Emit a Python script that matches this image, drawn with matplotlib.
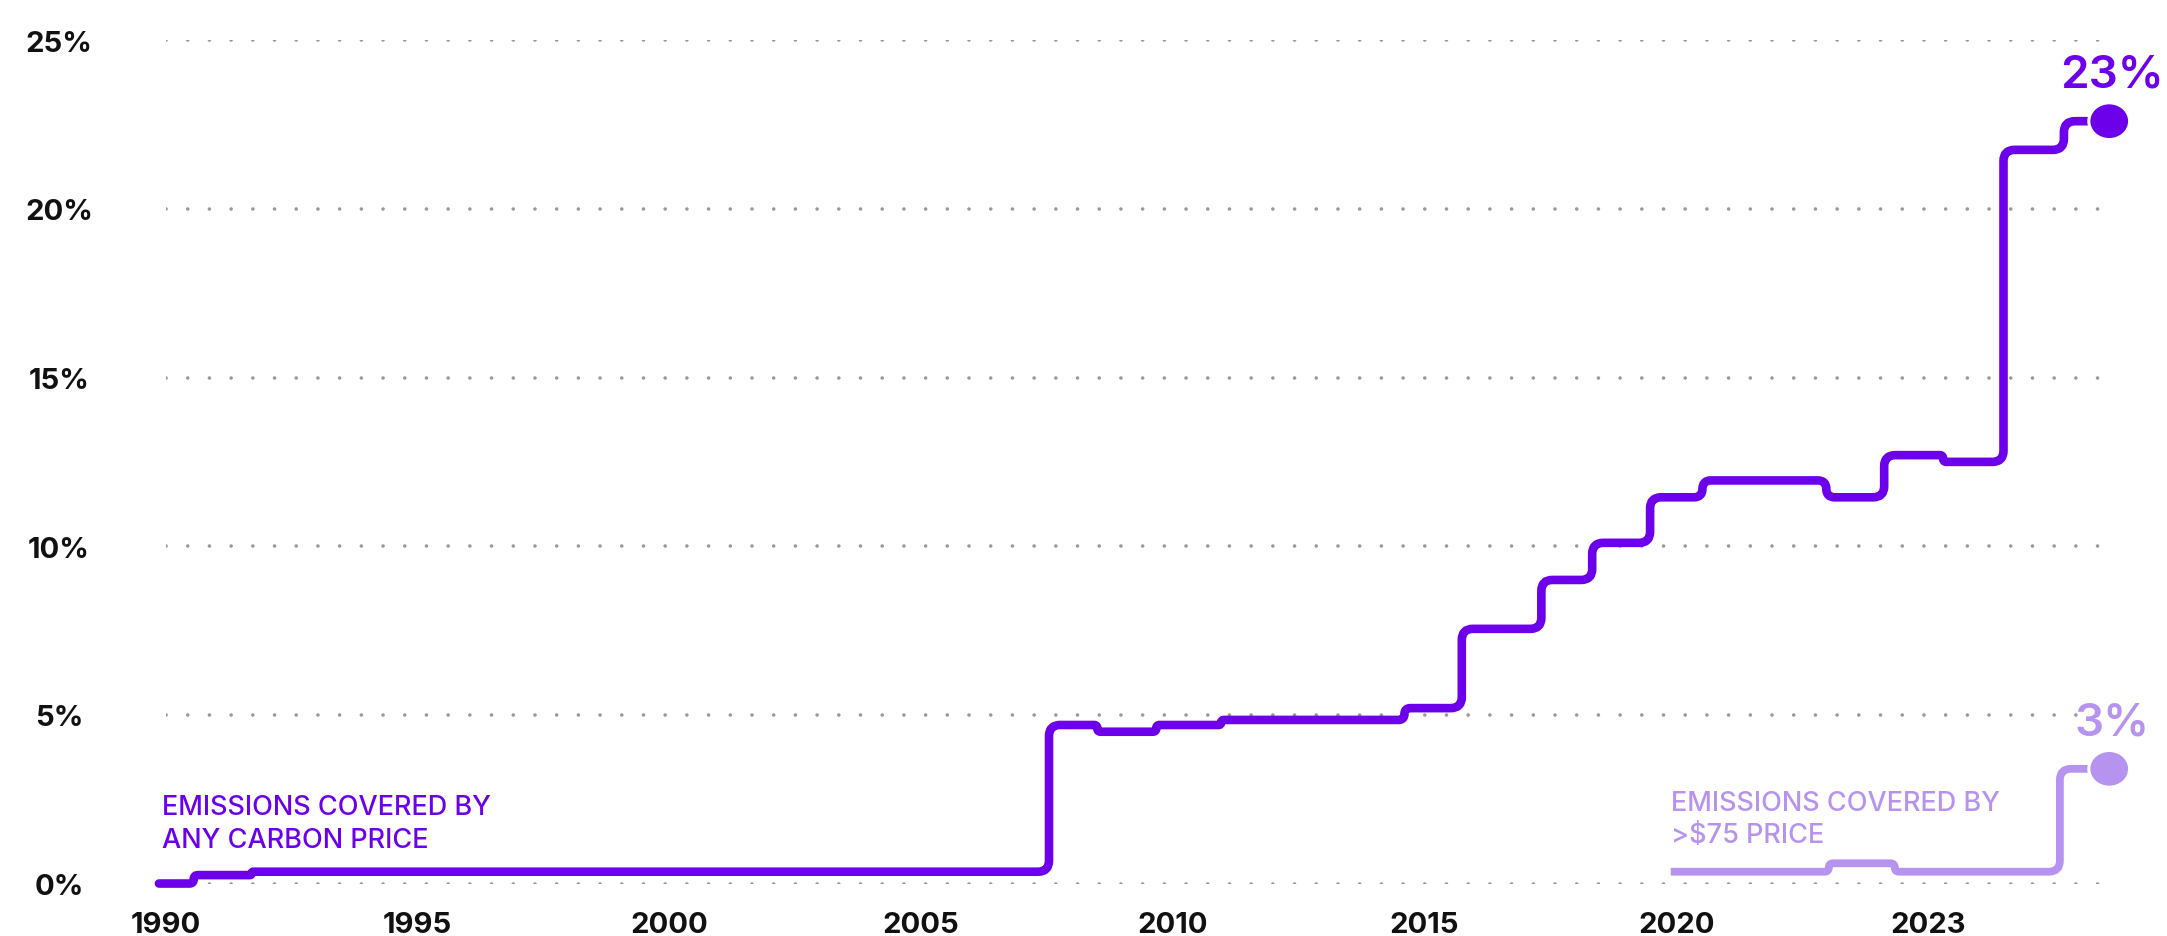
import numpy as np
import matplotlib
matplotlib.use("Agg")
import matplotlib.pyplot as plt
from matplotlib.path import Path
from matplotlib.patches import PathPatch, Ellipse
from matplotlib.transforms import IdentityTransform

# x axis ticks (the last tick carries the label "2023")
tick_pos = [1990, 1995, 2000, 2005, 2010, 2015, 2020, 2025]
tick_labels = ["1990", "1995", "2000", "2005", "2010", "2015", "2020", "2023"]
pct_ticks = [0, 5, 10, 15, 20, 25]

# share of emissions covered by any carbon price: x where each level starts, level in %
any_x = [1989.86, 1990.55, 1991.7, 2007.54, 2008.5, 2009.67, 2010.96, 2014.6,
         2015.74, 2017.32, 2018.33, 2019.48, 2020.52, 2022.98, 2024.13, 2025.3,
         2026.5, 2027.7]
any_pct = [0.0, 0.25, 0.35, 4.7, 4.5, 4.7, 4.85, 5.2,
           7.55, 9.0, 10.1, 11.45, 11.95, 11.45, 12.7, 12.5,
           21.75, 22.6]
any_end = 2028.6

# share covered by a price above $75
high_x = [2019.89, 2023.03, 2024.34, 2027.62]
high_pct = [0.35, 0.6, 0.35, 3.4]
high_end = 2028.6

DARK = "#6c00ea"
LIGHT = "#b793f0"
GRID = "#9a9a9a"
FONT = "Inter"

fig = plt.figure(figsize=(21.67, 9.37), dpi=100)
ax = fig.add_axes([0.0766, 0.056, 0.8972, 0.9])
ax.set_xlim(1990.19, 2028.62)
ax.set_ylim(0, 25)

for s in ax.spines.values():
    s.set_visible(False)

# dotted gridlines
for y in pct_ticks:
    ax.axhline(y, color=GRID, lw=2.6, linestyle=(0, (0.01, 6.0)),
               dash_capstyle="round", zorder=0)

ax.set_yticks(pct_ticks)
ax.set_yticklabels([f"{v}%" for v in pct_ticks])
ax.set_xticks(tick_pos)
ax.set_xticklabels(tick_labels)
ax.tick_params(axis="both", length=0, labelsize=21, labelcolor="#111111")
ax.tick_params(axis="y", pad=77)
ax.tick_params(axis="x", pad=20)
for lab in ax.get_yticklabels() + ax.get_xticklabels():
    lab.set_fontfamily(FONT)
    lab.set_fontweight("bold")
for lab in ax.get_yticklabels():
    lab.set_horizontalalignment("center")


def step_corners(xs, ys, x_end):
    pts = [(xs[0], ys[0])]
    for i in range(1, len(xs)):
        pts.append((xs[i], ys[i - 1]))
        pts.append((xs[i], ys[i]))
    pts.append((x_end, ys[-1]))
    return pts


def rounded_step(xs, ys, x_end, radius, **kw):
    # corners are rounded in pixel space so the radius is the same both ways
    pts = ax.transData.transform(step_corners(xs, ys, x_end))
    verts = [pts[0]]
    codes = [Path.MOVETO]
    for i in range(1, len(pts) - 1):
        a, p, b = pts[i - 1], pts[i], pts[i + 1]
        da, db = a - p, b - p
        la, lb = np.hypot(*da), np.hypot(*db)
        r = min(radius, la / 2, lb / 2)
        if r < 0.05:
            verts.append(p)
            codes.append(Path.LINETO)
            continue
        verts += [p + da / la * r, p, p + db / lb * r]
        codes += [Path.LINETO, Path.CURVE3, Path.CURVE3]
    verts.append(pts[-1])
    codes.append(Path.LINETO)
    patch = PathPatch(Path(verts, codes), transform=IdentityTransform(),
                      fill=False, clip_on=False, **kw)
    ax.add_patch(patch)


rounded_step(any_x, any_pct, any_end, 11, edgecolor=DARK, lw=6.2,
             capstyle="round", joinstyle="round", zorder=3)
rounded_step(high_x, high_pct, high_end, 11, edgecolor=LIGHT, lw=5.6,
             capstyle="butt", joinstyle="round", zorder=3)

# end dots (slightly wider than tall) with the latest value above
for x_end, pcts, col in [(any_end, any_pct, DARK), (high_end, high_pct, LIGHT)]:
    ax.add_patch(Ellipse((x_end, pcts[-1]), 0.81, 1.09, facecolor=col,
                         edgecolor="white", lw=2.2, clip_on=False, zorder=4))
    ax.annotate(f"{pcts[-1]:.0f}%", (x_end, pcts[-1]), xytext=(2, 25),
                textcoords="offset points", ha="center", va="baseline",
                fontsize=33, color=col, family=FONT, fontweight="semibold",
                annotation_clip=False)

# series labels, one line at a time (baselines in % units)
label_kw = dict(fontsize=19.5, family=FONT, fontweight="medium", ha="left",
                va="baseline", parse_math=False)
ax.text(1989.92, 2.06, "EMISSIONS COVERED BY", color=DARK, **label_kw)
ax.text(1989.92, 1.09, "ANY CARBON PRICE", color=DARK, **label_kw)
ax.text(2019.89, 2.18, "EMISSIONS COVERED BY", color=LIGHT, **label_kw)
ax.text(2019.89, 1.22, ">$75 PRICE", color=LIGHT, **label_kw)

fig.savefig("out.png", dpi=100)
